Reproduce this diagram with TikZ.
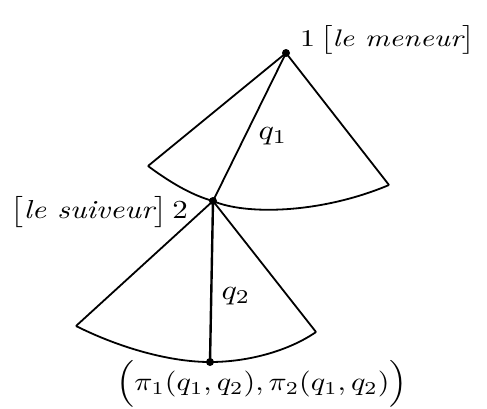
\documentclass[tikz,border=0pt]{standalone}
\usepackage{graphicx}
\usepackage{amsmath}
\begin{document}
\begin{tikzpicture}[x=1pt,y=-1pt,
  edge/.style={line width=1.8pt,line join=round},
  joint/.style={circle,fill=black,inner sep=0pt,minimum size=8pt},
  lbl/.style={inner sep=0pt}]
\useasboundingbox (0,0) rectangle (487,408);
% joints
\node[joint] (j1) at (286,53) {};
\node[joint] (j2) at (213,201) {};
\node[joint] (j3) at (210,362) {};
% sector 1 corners
\coordinate (a1) at (148,166);
\coordinate (c1) at (389,185);
% sector 2 corners
\coordinate (a2) at (76,326);
\coordinate (c2) at (316,332);
% sector 1
\draw[edge] (j1.center) -- (a1);
\draw[edge] (j1.center) -- (c1);
\draw[edge] (j1.center) -- (j2.center);
\draw[edge] (a1) .. controls (175,186) and (195,196) .. (j2.center)
  .. controls (245,215) and (320,214) .. (c1);
% sector 2
\draw[edge] (j2.center) -- (a2);
\draw[edge] (j2.center) -- (c2);
\draw[line width=2.4pt] (j2.center) -- (j3.center);
\draw[edge] (a2) .. controls (120,348) and (170,362) .. (j3.center)
  .. controls (250,362) and (290,350) .. (c2);
% labels
\node[lbl,anchor=west] (t1) at (300,40) {\scalebox{3.0}[2.4]{$1\,\bigl[\textit{le meneur}\bigr]$}};
\node[lbl,anchor=east] (t2) at (188,212) {\scalebox{3.1}[2.6]{$\bigl[\textit{le suiveur}\bigr]\,2$}};
\node[lbl] (tq1) at (273,136) {\scalebox{3.2}[2.8]{$q_1$}};
\node[lbl] (tq2) at (236,296) {\scalebox{3.2}[2.8]{$q_2$}};
\node[lbl] (tb) at (262,384) {\scalebox{3.0}[2.6]{$\Bigl(\pi_1(q_1,q_2),\pi_2(q_1,q_2)\Bigr)$}};
\end{tikzpicture}
\end{document}
